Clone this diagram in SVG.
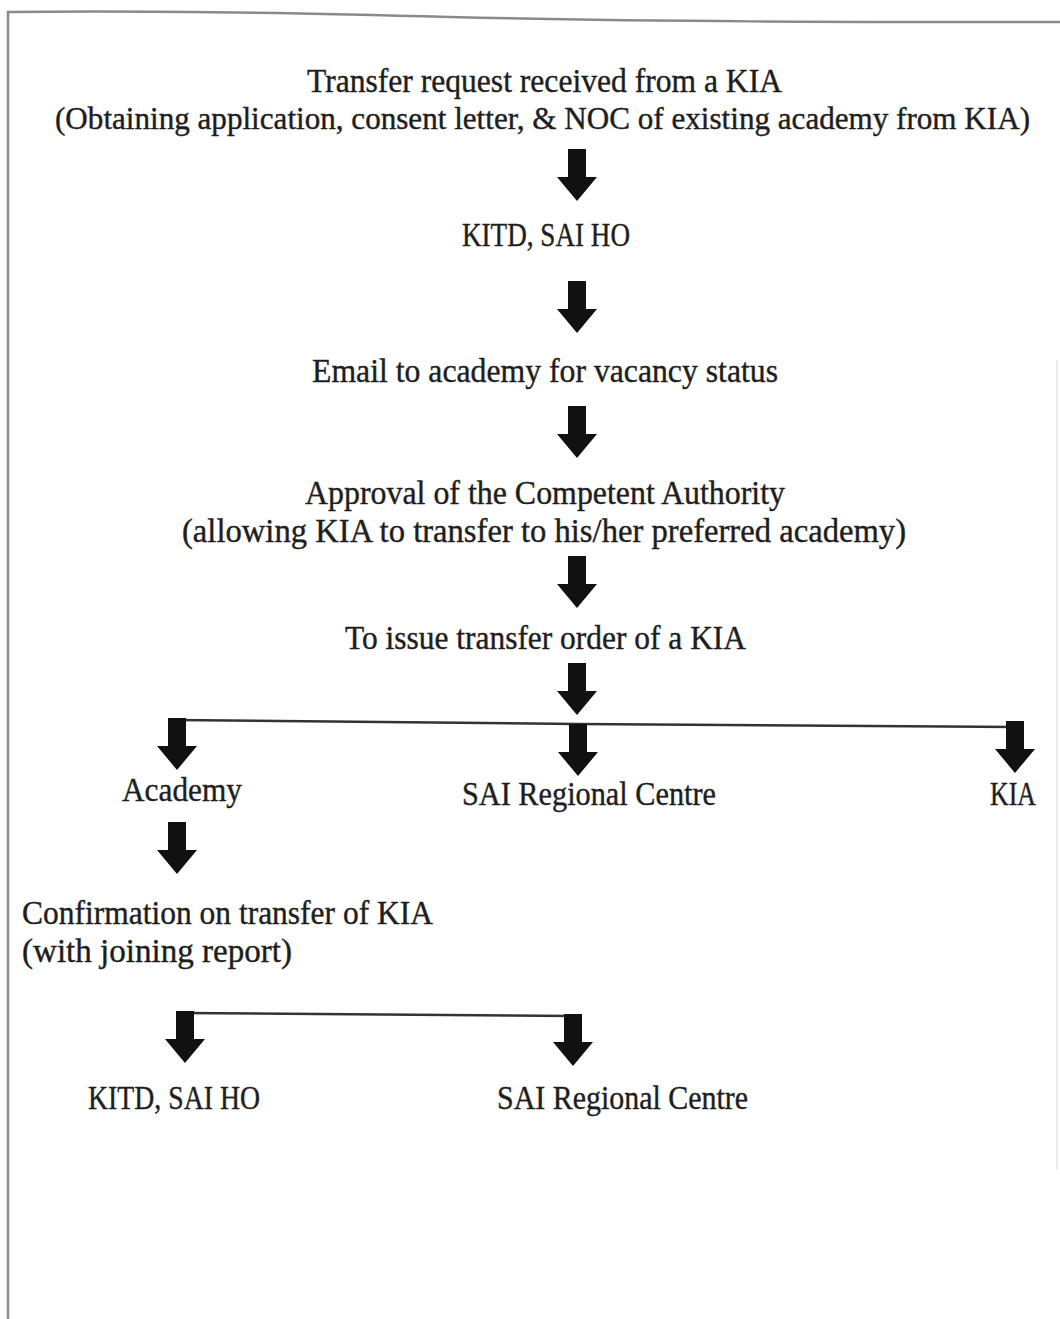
<svg xmlns="http://www.w3.org/2000/svg" xmlns:xlink="http://www.w3.org/1999/xlink" width="1060" height="1319" viewBox="0 0 1060 1319">
<style>
  .t { font-family: "Liberation Serif", "DejaVu Serif", serif; font-size: 34px; fill: #1e1e1e; stroke: #1e1e1e; stroke-width: 0.4; }
  .arr { fill: #111; }
  .ln { stroke: #333; stroke-width: 2.5; fill: none; }
  .border { stroke: #8a8a8a; stroke-width: 2.5; fill: none; }
</style>
<defs>
  <path id="arrow" d="M-9,0 H9 V28 H20 L0,52 L-20,28 H-9 Z"/>
</defs>
<rect width="1060" height="1319" fill="#fff"/>
<g id="frame">
  <path class="border" d="M8,1319 V12 C150,10 300,13 450,17 C650,22 850,22 1060,22"/>
  <path d="M1057,360 V1170" stroke="#ececec" stroke-width="2" fill="none"/>
</g>
<g id="connectors">
  <use xlink:href="#arrow" class="arr" x="577" y="149"/>
  <use xlink:href="#arrow" class="arr" x="577" y="281"/>
  <use xlink:href="#arrow" class="arr" x="577" y="406"/>
  <use xlink:href="#arrow" class="arr" x="577" y="556"/>
  <use xlink:href="#arrow" class="arr" x="577" y="663"/>
  <path class="ln" d="M175,720 L577,724 L1015,727"/>
  <use xlink:href="#arrow" class="arr" x="177" y="718"/>
  <use xlink:href="#arrow" class="arr" x="578" y="724"/>
  <use xlink:href="#arrow" class="arr" x="1015" y="721"/>
  <use xlink:href="#arrow" class="arr" x="177" y="822"/>
  <path class="ln" d="M184,1013 L573,1016"/>
  <use xlink:href="#arrow" class="arr" x="185" y="1011"/>
  <use xlink:href="#arrow" class="arr" x="573" y="1014"/>
</g>
<g id="n1"><text class="t" x="307" y="92" textLength="475" lengthAdjust="spacingAndGlyphs">Transfer request received from a KIA</text>
<text class="t" x="55" y="129" style="font-size:31px" textLength="975" lengthAdjust="spacingAndGlyphs">(Obtaining application, consent letter, &amp; NOC of existing academy from KIA)</text></g>
<g id="n2"><text class="t" x="462" y="246" textLength="168" lengthAdjust="spacingAndGlyphs">KITD, SAI HO</text></g>
<g id="n3"><text class="t" x="312" y="382" textLength="466" lengthAdjust="spacingAndGlyphs">Email to academy for vacancy status</text></g>
<g id="n4"><text class="t" x="305" y="504" textLength="480" lengthAdjust="spacingAndGlyphs">Approval of the Competent Authority</text>
<text class="t" x="182" y="542" textLength="724" lengthAdjust="spacingAndGlyphs">(allowing KIA to transfer to his/her preferred academy)</text></g>
<g id="n5"><text class="t" x="345" y="649" textLength="401" lengthAdjust="spacingAndGlyphs">To issue transfer order of a KIA</text></g>
<g id="n6"><text class="t" x="122" y="801" textLength="120" lengthAdjust="spacingAndGlyphs">Academy</text></g>
<g id="n7"><text class="t" x="462" y="805" textLength="254" lengthAdjust="spacingAndGlyphs">SAI Regional Centre</text></g>
<g id="n8"><text class="t" x="990" y="805" textLength="46" lengthAdjust="spacingAndGlyphs">KIA</text></g>
<g id="n9"><text class="t" x="22" y="924" textLength="411" lengthAdjust="spacingAndGlyphs">Confirmation on transfer of KIA</text>
<text class="t" x="22" y="962" textLength="270" lengthAdjust="spacingAndGlyphs">(with joining report)</text></g>
<g id="n10"><text class="t" x="88" y="1109" textLength="172" lengthAdjust="spacingAndGlyphs">KITD, SAI HO</text></g>
<g id="n11"><text class="t" x="497" y="1109" textLength="251" lengthAdjust="spacingAndGlyphs">SAI Regional Centre</text></g>
</svg>
